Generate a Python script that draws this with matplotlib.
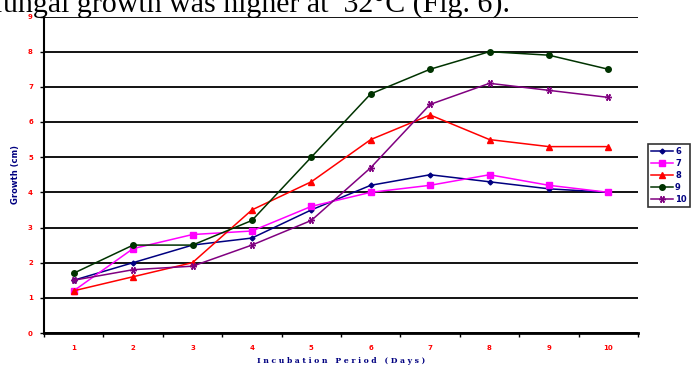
import matplotlib
matplotlib.use("Agg")
import matplotlib.pyplot as plt

days = [1, 2, 3, 4, 5, 6, 7, 8, 9, 10]
g6 = [1.5, 2.0, 2.5, 2.7, 3.5, 4.2, 4.5, 4.3, 4.1, 4.0]
g7 = [1.2, 2.4, 2.8, 2.9, 3.6, 4.0, 4.2, 4.5, 4.2, 4.0]
g8 = [1.2, 1.6, 2.0, 3.5, 4.3, 5.5, 6.2, 5.5, 5.3, 5.3]
g9 = [1.7, 2.5, 2.5, 3.2, 5.0, 6.8, 7.5, 8.0, 7.9, 7.5]
g10 = [1.5, 1.8, 1.9, 2.5, 3.2, 4.7, 6.5, 7.1, 6.9, 6.7]

series = [
    ("6", g6, "#000080", "D", 2.5),
    ("7", g7, "#FF00FF", "s", 4.2),
    ("8", g8, "#FF0000", "^", 4),
    ("9", g9, "#003300", "o", 4),
    ("10", g10, "#800080", (6, 2, 90), 5),
]

fig = plt.figure(figsize=(6.93, 3.68), dpi=100)
ax = fig.add_axes([44 / 693, 1 - 333 / 368, 594 / 693, (333 - 16.5) / 368])

# texte du document coupé en haut
fig.text(-7 / 693, 1 - 13 / 368, "fungal growth was higher at  32\u00b0C (Fig. 6).",
         family="Liberation Serif", fontsize=21.5, va="baseline", ha="left", color="black")

for i in range(10):
    ax.axhline(i, color="black", lw=1.3, zorder=1)

for name, vals, col, mk, ms in series:
    ax.plot(days, vals, color=col, marker=mk, markersize=ms, lw=1.1,
            markeredgecolor=col, markeredgewidth=1.0, label=name, zorder=3)

ax.set_xlim(0.5, 10.5)
ax.set_ylim(0, 9)
ax.set_xticks(days)
ax.set_xticks([d + 0.5 for d in range(0, 11)], minor=True)
ax.set_yticks(range(10))
ax.tick_params(axis="x", which="major", length=0, pad=9)
ax.tick_params(axis="x", which="minor", length=3, width=1, direction="out")
ax.tick_params(axis="y", length=3, width=1, direction="out", pad=5)
for lab in ax.get_xticklabels() + ax.get_yticklabels():
    lab.set_color("#FF0000")
    lab.set_fontsize(5)
    lab.set_fontweight("bold")

for s in ["top", "right"]:
    ax.spines[s].set_visible(False)
ax.spines["left"].set_linewidth(1.5)
ax.spines["bottom"].set_linewidth(2)

ax.set_ylabel("Growth (cm)", color="#000080", fontsize=6, fontweight="bold", labelpad=6)
ax.set_xlabel("I n c u b a t i o n   P e r i o d   ( D a y s )", color="#000080",
              fontsize=5.5, fontweight="bold", labelpad=4, family="DejaVu Serif")

leg = fig.legend(loc="upper left", bbox_to_anchor=(648 / 693, 1 - 144 / 368),
                 fontsize=6, frameon=True, fancybox=False, edgecolor="black",
                 handlelength=2.6, borderpad=0.35, labelspacing=0.35, handletextpad=0.3,
                 borderaxespad=0)
leg.get_frame().set_linewidth(1.2)
for t in leg.get_texts():
    t.set_color("#000080")
    t.set_fontweight("bold")

fig.savefig("out.png", dpi=100)
